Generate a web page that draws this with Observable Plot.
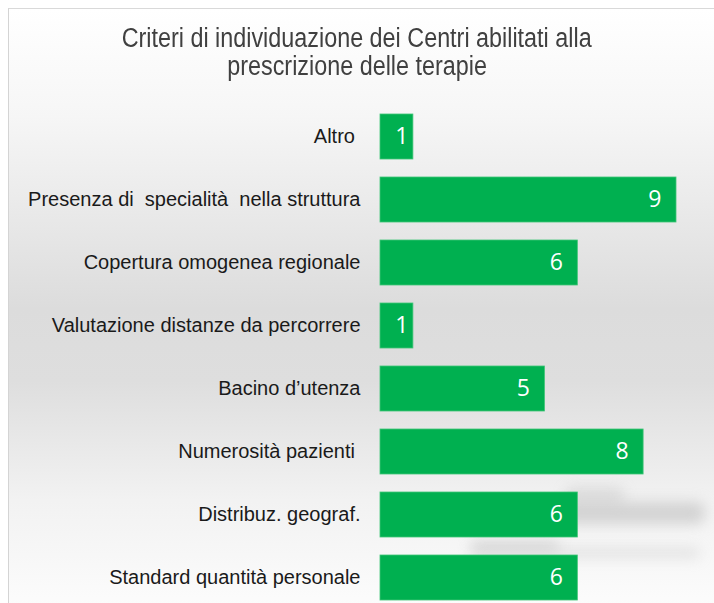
<!DOCTYPE html>
<html>
<head>
<meta charset="utf-8">
<script src="https://cdn.jsdelivr.net/npm/d3@7"></script>
<script src="https://cdn.jsdelivr.net/npm/@observablehq/plot@0.6"></script>
<style>
  html, body { margin: 0; padding: 0; background: #ffffff; width: 714px; height: 603px; overflow: hidden; }
  #frame {
    position: absolute; left: 8px; top: 8px; width: 706px; height: 600px;
    border-left: 1px solid #d4d4d4; border-top: 1px solid #d9d9d9;
    background: linear-gradient(to bottom, #ffffff 0%, #f6f6f6 18%, #dcdcdc 50%, #dedede 62%, #f2f2f2 82%, #fcfcfc 100%);
  }
  .smudge { position: absolute; background: #b8b8b8; filter: blur(7px); opacity: 0.55; border-radius: 8px; }
  #title {
    position: absolute; left: 0; top: 24px; width: 714px; text-align: center;
    font-family: "Liberation Sans", Arial, sans-serif;
    font-size: 27px; line-height: 28px; color: #404040;
  }
  #title span { display: inline-block; transform-origin: center; white-space: nowrap; }
  #chart { position: absolute; left: 0; top: 96px; }
</style>
</head>
<body>
<div id="frame"></div>
<div class="smudge" style="left:565px; top:488px; width:60px; height:14px; opacity:0.4;"></div>
<div class="smudge" style="left:560px; top:502px; width:145px; height:22px;"></div>
<div class="smudge" style="left:470px; top:540px; width:90px; height:12px; opacity:0.45;"></div>
<div class="smudge" style="left:470px; top:548px; width:230px; height:10px; opacity:0.35;"></div>
<div id="title"><span id="t1">Criteri di individuazione dei Centri abilitati alla</span><br><span id="t2">prescrizione delle terapie</span></div>
<div id="chart"></div>
<script>
const categories = [
  "Altro ",
  "Presenza di  specialità  nella struttura",
  "Copertura omogenea regionale",
  "Valutazione distanze da percorrere",
  "Bacino d’utenza",
  "Numerosità pazienti ",
  "Distribuz. geograf.",
  "Standard quantità personale"
];
const values = [1, 9, 6, 1, 5, 8, 6, 6];

const data = categories.map((c, i) => ({category: c, value: values[i]}));

// condense the title to mimic a narrow face
const t1 = document.getElementById("t1"), t2 = document.getElementById("t2");
const k = 470 / t1.getBoundingClientRect().width;
t1.style.transform = `scaleX(${k})`;
t2.style.transform = `scaleX(${k})`;

const chart = Plot.plot({
  width: 714,
  height: 507,
  marginLeft: 380,
  marginRight: 38,
  marginTop: 18,
  marginBottom: 3,
  style: {background: "transparent", overflow: "visible"},
  x: {domain: [0, 9], axis: null},
  y: {domain: categories, paddingInner: 0.286, paddingOuter: 0, axis: null},
  marks: [
    Plot.barX(data, {x: "value", y: "category", fill: "#00b050", stroke: "#3fc577", strokeWidth: 0.8}),
    Plot.text(data, {
      x: 0, y: "category", text: "category", textAnchor: "end", dx: -20,
      fontSize: 20, fill: "#1a1a1a",
      fontFamily: "'Liberation Sans', Arial, sans-serif"
    }),
    Plot.text(data.filter(d => d.value > 1), {
      x: "value", y: "category", text: d => String(d.value), textAnchor: "end", dx: -15,
      fontSize: 23, fill: "#ffffff", fontFamily: "'Open Sans', 'Noto Sans', sans-serif"
    }),
    Plot.text(data.filter(d => d.value <= 1), {
      x: "value", y: "category", text: d => String(d.value), textAnchor: "end", dx: -5,
      fontSize: 23, fill: "#ffffff", fontFamily: "'Open Sans', 'Noto Sans', sans-serif"
    })
  ]
});
chart.querySelectorAll("text").forEach(t => { t.setAttribute("xml:space", "preserve"); t.style.whiteSpace = "pre"; });
document.getElementById("chart").appendChild(chart);
</script>
</body>
</html>
